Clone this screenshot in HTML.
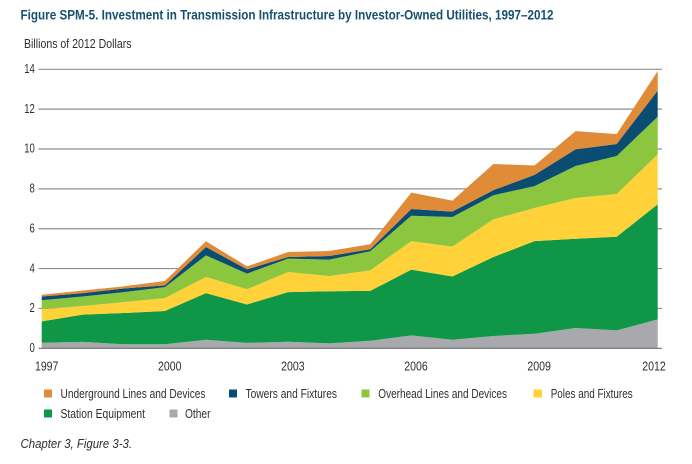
<!DOCTYPE html>
<html>
<head>
<meta charset="utf-8">
<title>Figure SPM-5</title>
<style>
html,body{margin:0;padding:0;background:#fff;width:692px;height:464px;overflow:hidden}
svg{display:block}
text{font-family:"Liberation Sans",sans-serif;fill:#2f2f2f}
</style>
</head>
<body>
<svg id="chart" width="692" height="464" viewBox="0 0 692 464">
  <rect x="0" y="0" width="692" height="464" fill="#ffffff"/>
  <text x="20.5" y="19.5" font-size="13.5" font-weight="bold" style="fill:#17506f" textLength="533" lengthAdjust="spacingAndGlyphs">Figure SPM-5. Investment in Transmission Infrastructure by Investor-Owned Utilities, 1997–2012</text>
  <text x="24" y="48" font-size="12.5" textLength="107.5" lengthAdjust="spacingAndGlyphs">Billions of 2012 Dollars</text>
  <g id="grid"></g>
  <g id="areas"></g>
  <g id="axis"></g>

  <g>
    <g>
      <rect x="44" y="389.5" width="8" height="8" fill="#e08b38"/>
      <text x="60.5" y="398" font-size="12.5" textLength="145" lengthAdjust="spacingAndGlyphs">Underground Lines and Devices</text>
    </g>
    <g>
      <rect x="229" y="389.5" width="8" height="8" fill="#0b4c72"/>
      <text x="245.5" y="398" font-size="12.5" textLength="91.5" lengthAdjust="spacingAndGlyphs">Towers and Fixtures</text>
    </g>
    <g>
      <rect x="361.5" y="389.5" width="8" height="8" fill="#8cc63f"/>
      <text x="378.3" y="398" font-size="12.5" textLength="128.7" lengthAdjust="spacingAndGlyphs">Overhead Lines and Devices</text>
    </g>
    <g>
      <rect x="533.5" y="389.5" width="8.5" height="8" fill="#ffd23a"/>
      <text x="550.7" y="398" font-size="12.5" textLength="82" lengthAdjust="spacingAndGlyphs">Poles and Fixtures</text>
    </g>
    <g>
      <rect x="44" y="409.5" width="8" height="8" fill="#109647"/>
      <text x="60.5" y="418" font-size="12.5" textLength="84.5" lengthAdjust="spacingAndGlyphs">Station Equipment</text>
    </g>
    <g>
      <rect x="169.5" y="409.5" width="8" height="8" fill="#a7a9ac"/>
      <text x="185" y="418" font-size="12.5" textLength="25.5" lengthAdjust="spacingAndGlyphs">Other</text>
    </g>
  </g>
  <text x="20.5" y="448" font-size="12.5" font-style="italic" textLength="111.5" lengthAdjust="spacingAndGlyphs">Chapter 3, Figure 3-3.</text>
</svg>
<script>
const years = [1997,1998,1999,2000,2001,2002,2003,2004,2005,2006,2007,2008,2009,2010,2011,2012];
const other = [0.28,0.32,0.20,0.20,0.43,0.27,0.33,0.25,0.38,0.65,0.43,0.62,0.73,1.02,0.90,1.45];
const station = [1.07,1.37,1.57,1.67,2.34,1.93,2.49,2.61,2.50,3.30,3.17,3.96,4.65,4.48,4.70,5.77];
const poles = [0.61,0.43,0.55,0.65,0.81,0.76,1.01,0.77,1.03,1.43,1.50,1.89,1.66,2.04,2.14,2.51];
const overhead = [0.45,0.48,0.50,0.55,1.08,0.79,0.67,0.82,0.96,1.27,1.49,1.21,1.10,1.61,1.91,1.89];
const towers = [0.19,0.17,0.18,0.09,0.42,0.21,0.08,0.18,0.10,0.34,0.27,0.26,0.56,0.83,0.60,1.31];
const underground = [0.09,0.13,0.11,0.22,0.29,0.15,0.25,0.25,0.25,0.82,0.55,1.31,0.47,0.92,0.50,0.98];
const yTicks = [0,2,4,6,8,10,12,14];
const xTicks = [1997,2000,2003,2006,2009,2012];

const NS = 'http://www.w3.org/2000/svg';
function xScale(year){ return 41.7 + (year - 1997) * (657.7 - 41.7) / 15; }
function yScale(v){ return 348.3 - v * (348.3 - 69.3) / 14; }

const gridLayer = document.getElementById('grid');
const areaLayer = document.getElementById('areas');
const axisLayer = document.getElementById('axis');

yTicks.forEach(function(t){
  if (t !== 0) {
    const line = document.createElementNS(NS, 'line');
    
    
    line.setAttribute('x1', 38.5);
    line.setAttribute('x2', 662);
    line.setAttribute('y1', yScale(t));
    line.setAttribute('y2', yScale(t));
    line.setAttribute('stroke', '#8f8f8f');
    line.setAttribute('stroke-width', '1.2');
    gridLayer.appendChild(line);
  }
  const label = document.createElementNS(NS, 'text');
  
  
  label.setAttribute('x', 34.8);
  label.setAttribute('y', yScale(t) + 3.7);
  label.setAttribute('text-anchor', 'end');
  label.setAttribute('font-size', '12.5');
  label.setAttribute('textLength', String(String(t).length * 5.3));
  label.setAttribute('lengthAdjust', 'spacingAndGlyphs');
  label.textContent = String(t);
  axisLayer.appendChild(label);
});

const layers = [
  {name: 'area-other', values: other, color: '#a7a9ac'},
  {name: 'area-station-equipment', values: station, color: '#109647'},
  {name: 'area-poles-and-fixtures', values: poles, color: '#ffd23a'},
  {name: 'area-overhead-lines', values: overhead, color: '#8cc63f'},
  {name: 'area-towers-and-fixtures', values: towers, color: '#0b4c72'},
  {name: 'area-underground-lines', values: underground, color: '#e08b38'}
];
let base = years.map(function(){ return 0; });
layers.forEach(function(layer){
  const top = base.map(function(b, i){ return b + layer.values[i]; });
  const pts = [];
  years.forEach(function(yr, i){ pts.push(xScale(yr).toFixed(2) + ',' + yScale(top[i]).toFixed(2)); });
  for (let i = years.length - 1; i >= 0; i--) {
    pts.push(xScale(years[i]).toFixed(2) + ',' + yScale(base[i]).toFixed(2));
  }
  const poly = document.createElementNS(NS, 'polygon');
  
  
  poly.setAttribute('points', pts.join(' '));
  poly.setAttribute('fill', layer.color);
  areaLayer.appendChild(poly);
  base = top;
});

const baseline = document.createElementNS(NS, 'line');


baseline.setAttribute('x1', 38.5);
baseline.setAttribute('x2', 662);
baseline.setAttribute('y1', yScale(0));
baseline.setAttribute('y2', yScale(0));
baseline.setAttribute('stroke', '#707070');
baseline.setAttribute('stroke-width', '1.2');
axisLayer.appendChild(baseline);

xTicks.forEach(function(yr, i){
  const label = document.createElementNS(NS, 'text');
  
  
  label.setAttribute('x', xScale(yr) + (i === xTicks.length - 1 ? -3.7 : 5 - 0.1 * i));
  label.setAttribute('y', 370.5);
  label.setAttribute('text-anchor', 'middle');
  label.setAttribute('font-size', '12.5');
  label.setAttribute('textLength', '23.5');
  label.setAttribute('lengthAdjust', 'spacingAndGlyphs');
  label.textContent = String(yr);
  axisLayer.appendChild(label);
});
</script>
</body>
</html>
